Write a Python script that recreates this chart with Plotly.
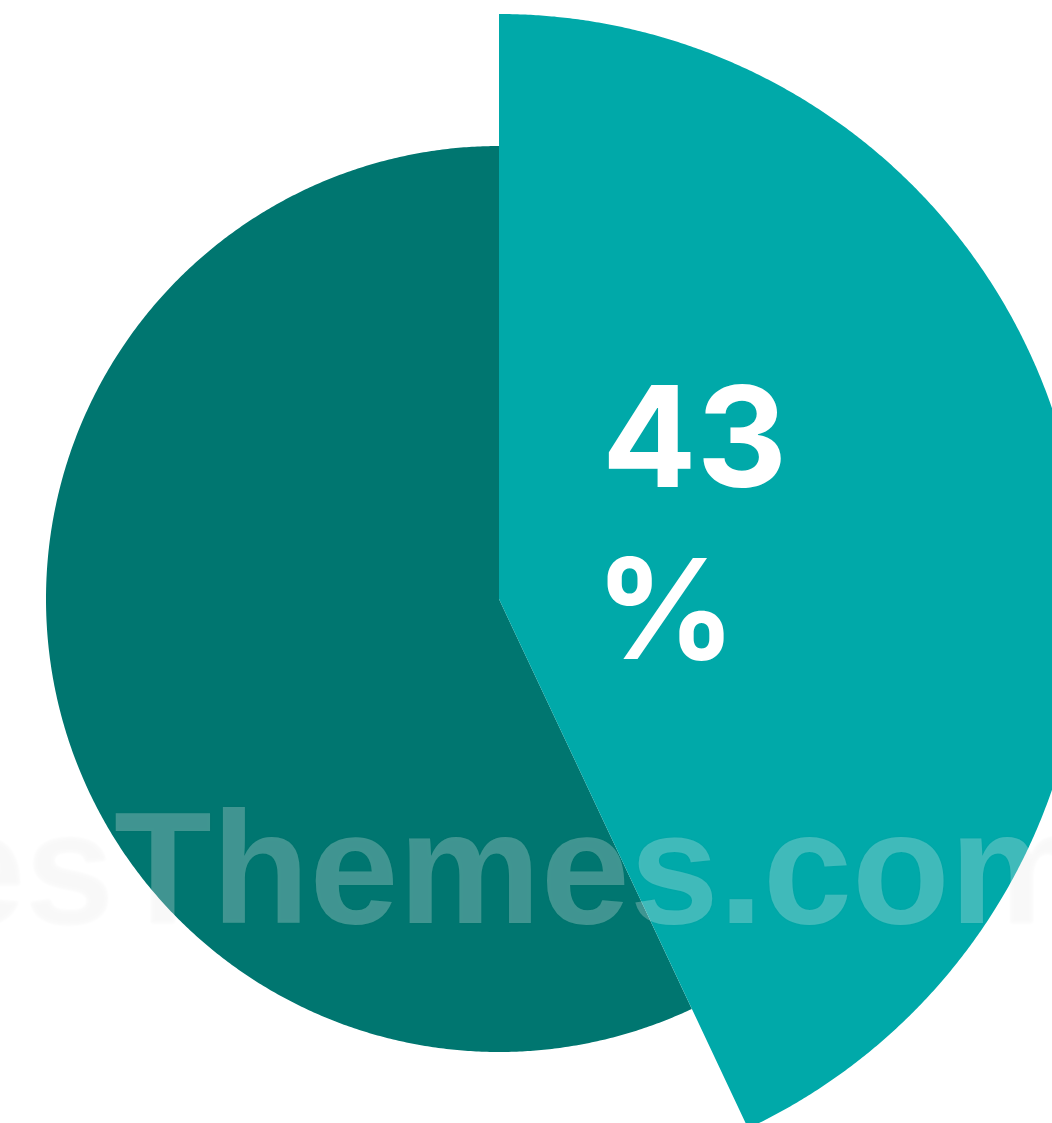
import numpy as np
import plotly.graph_objects as go

# Data
labels = ["Highlighted", "Rest"]
values = [43, 57]
label_line1 = "43"
label_line2 = "%"
watermark = "esThemes.com"

# Styles / geometry (pixels)
W, H = 1052, 1123
CX, CY = 499, 524          # centre, measured from left / bottom
radii = [585, 453]
colors = ["#00A9A9", "#007670"]

fig = go.Figure()

total = sum(values)
start = 0.0
traces = []
for lab, v, r, c in zip(labels, values, radii, colors):
    sweep = v / total * 360.0
    th = np.radians(np.linspace(start, start + sweep, 600))
    xs = np.concatenate([[0], r * np.sin(th), [0]])
    ys = np.concatenate([[0], r * np.cos(th), [0]])
    traces.append(go.Scatter(x=xs, y=ys, fill="toself", fillcolor=c,
                             mode="lines",
                             line=dict(width=0, color=c, simplify=False),
                             name=lab, hoverinfo="name", showlegend=False))
    start += sweep

# draw dark slice underneath the highlighted one
for t in reversed(traces):
    fig.add_trace(t)

fig.add_annotation(x=101, y=163, text=label_line1, showarrow=False,
                   xanchor="left", yanchor="middle",
                   font=dict(family="Inter", size=140, color="white", weight=700))
fig.add_annotation(x=94, y=-9, text=label_line2, showarrow=False,
                   xanchor="left", yanchor="middle",
                   font=dict(family="Inter", size=139, color="white", weight=700))

fig.add_annotation(x=15, y=-268, text=watermark, showarrow=False,
                   xanchor="center", yanchor="middle",
                   font=dict(family="Liberation Sans", size=160,
                             color="rgba(255,255,255,0.25)", weight=700,
                             shadow="0px 0px 3px rgba(0,0,0,0.14)"))

fig.update_layout(
    width=W, height=H,
    margin=dict(l=0, r=0, t=0, b=0),
    paper_bgcolor="white", plot_bgcolor="white",
    xaxis=dict(range=[-CX, W - CX], visible=False, fixedrange=True),
    yaxis=dict(range=[-CY, H - CY], visible=False, fixedrange=True),
    showlegend=False,
)

fig.write_html(
    "out.html",
    config={"displayModeBar": False},
    post_script="document.body.style.margin='0';"
                "document.documentElement.style.overflow='hidden';",
)
